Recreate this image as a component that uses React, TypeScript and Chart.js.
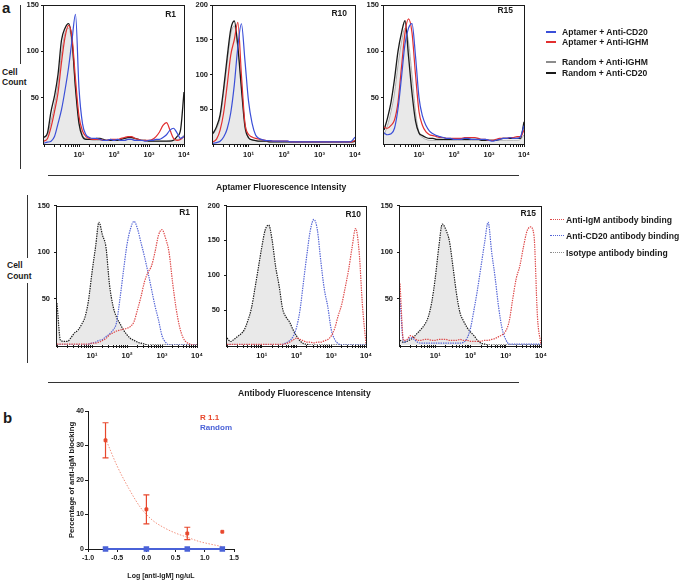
import React, { useEffect, useRef } from "react";
import { Chart, registerables } from "chart.js";

Chart.register(...registerables);

// ---------------- data ----------------
// histogram bins, in log10 units of fluorescence intensity (10^0 .. 10^4)
const LOG_BINS = [
  0.0, 0.1, 0.2, 0.3, 0.4, 0.5, 0.6, 0.7, 0.8, 0.9, 1.0, 1.1, 1.2, 1.3, 1.4, 1.5, 1.6, 1.7, 1.8, 1.9, 2.0,
  2.1, 2.2, 2.3, 2.4, 2.5, 2.6, 2.7, 2.8, 2.9, 3.0, 3.1, 3.2, 3.3, 3.4, 3.5, 3.6, 3.7, 3.8, 3.9, 4.0,
];
const DECADE_LABELS = ["", "10¹", "10²", "10³", "10⁴"];
const COUNT_TICKS = [50, 100, 150, 200];

// --- panel a, top row: aptamer fluorescence ---
const R1_APT_CD20 = [1, 2, 3, 8, 22, 37, 58, 82, 112, 140, 60, 22, 10, 7, 6, 6, 5, 4, 4, 5, 4, 5, 4, 4, 5, 5, 4, 4, 4, 3, 4, 4, 5, 5, 7, 10, 15, 17, 12, 6, 8];
const R1_APT_IGHM = [3, 6, 18, 35, 55, 88, 115, 128, 115, 70, 30, 14, 8, 6, 5, 5, 5, 4, 4, 5, 5, 5, 6, 7, 8, 8, 6, 5, 4, 4, 4, 5, 8, 13, 20, 23, 15, 6, 4, 5, 8];
const R1_RND_IGHM = [8, 10, 25, 42, 65, 98, 120, 125, 108, 60, 25, 10, 6, 5, 4, 4, 4, 4, 4, 4, 4, 4, 4, 4, 5, 5, 4, 4, 4, 3, 3, 3, 3, 3, 3, 3, 4, 4, 5, 6, 10];
const R1_RND_CD20 = [7, 12, 35, 52, 75, 112, 125, 130, 112, 60, 22, 8, 5, 5, 5, 6, 6, 5, 4, 4, 4, 4, 5, 6, 7, 7, 6, 5, 4, 4, 3, 3, 3, 3, 3, 3, 3, 4, 8, 15, 56];

const R10_APT_CD20 = [1, 2, 4, 10, 22, 45, 85, 140, 173, 120, 62, 30, 13, 8, 6, 5, 5, 4, 4, 4, 4, 4, 3, 3, 3, 3, 3, 3, 3, 3, 3, 3, 3, 3, 3, 3, 3, 3, 3, 4, 10];
const R10_APT_IGHM = [3, 7, 20, 45, 85, 128, 150, 175, 100, 30, 14, 10, 8, 7, 6, 5, 5, 4, 4, 4, 4, 4, 3, 3, 3, 3, 3, 3, 3, 3, 3, 3, 3, 3, 3, 3, 3, 3, 3, 3, 5];
const R10_RND_IGHM = [14, 22, 38, 75, 118, 158, 170, 140, 85, 30, 10, 6, 5, 4, 4, 4, 3, 3, 3, 3, 3, 3, 3, 3, 3, 3, 3, 3, 3, 3, 3, 3, 3, 3, 3, 3, 3, 3, 3, 3, 4];
const R10_RND_CD20 = [15, 25, 42, 80, 125, 165, 177, 140, 80, 25, 9, 6, 5, 4, 4, 4, 3, 3, 3, 3, 3, 3, 3, 3, 3, 3, 3, 3, 3, 3, 3, 3, 3, 3, 3, 3, 3, 3, 3, 3, 4];

const R15_APT_CD20 = [12, 10, 11, 17, 38, 72, 108, 125, 130, 95, 50, 30, 20, 14, 11, 9, 8, 7, 6, 6, 5, 5, 5, 6, 6, 5, 5, 5, 5, 5, 4, 3, 4, 5, 6, 6, 7, 6, 6, 8, 20];
const R15_APT_IGHM = [18, 17, 20, 26, 45, 83, 120, 135, 120, 75, 35, 20, 13, 10, 9, 8, 7, 7, 6, 6, 6, 6, 6, 7, 7, 7, 7, 6, 5, 5, 4, 4, 5, 6, 6, 6, 7, 7, 8, 8, 15];
const R15_RND_IGHM = [10, 20, 35, 55, 85, 110, 125, 110, 75, 35, 12, 7, 5, 4, 4, 4, 4, 4, 4, 4, 4, 4, 4, 4, 4, 4, 4, 4, 4, 4, 4, 4, 4, 4, 4, 4, 4, 4, 4, 5, 10];
const R15_RND_CD20 = [15, 28, 45, 70, 100, 120, 133, 95, 55, 25, 12, 9, 7, 6, 6, 5, 5, 5, 5, 5, 5, 5, 5, 5, 5, 5, 5, 5, 4, 4, 4, 4, 4, 5, 6, 6, 6, 6, 6, 6, 24];

// --- panel a, bottom row: antibody fluorescence ---
const AB_R1_IGM = [1, 1, 1, 1, 1, 1, 1, 1, 1, 1, 2, 2, 3, 5, 7, 11, 13, 15, 16, 17, 18, 20, 25, 38, 52, 68, 78, 85, 100, 118, 124, 115, 100, 68, 40, 20, 8, 3, 1, 0, 0];
const AB_R1_CD20 = [0, 0, 0, 0, 0, 0, 0, 0, 0, 1, 2, 3, 5, 6, 9, 12, 16, 24, 50, 80, 108, 125, 133, 125, 110, 95, 78, 60, 42, 27, 10, 3, 0, 0, 0, 0, 0, 0, 0, 0, 0];
const AB_R1_ISO = [45, 5, 4, 4, 8, 13, 16, 22, 30, 48, 78, 105, 132, 118, 105, 65, 42, 30, 23, 16, 11, 7, 5, 3, 2, 1, 0, 0, 0, 0, 0, 0, 0, 0, 0, 0, 0, 0, 0, 0, 0];

const AB_R10_IGM = [1, 1, 1, 1, 1, 1, 1, 1, 1, 1, 1, 1, 1, 1, 1, 1, 1, 2, 4, 7, 10, 8, 6, 4, 4, 3, 4, 4, 6, 8, 13, 24, 42, 58, 82, 108, 140, 167, 135, 55, 2];
const AB_R10_CD20 = [0, 0, 0, 0, 0, 0, 0, 0, 0, 0, 0, 0, 0, 0, 0, 0, 1, 3, 6, 12, 25, 50, 90, 130, 165, 180, 165, 120, 80, 55, 22, 8, 2, 0, 0, 0, 0, 0, 0, 0, 0];
const AB_R10_ISO = [10, 5, 8, 12, 16, 22, 35, 52, 80, 110, 140, 165, 172, 150, 112, 85, 52, 40, 33, 22, 13, 6, 2, 1, 0, 0, 0, 0, 0, 0, 0, 0, 0, 0, 0, 0, 0, 0, 0, 0, 0];

const AB_R15_IGM = [66, 5, 6, 10, 8, 5, 5, 6, 6, 5, 5, 6, 6, 6, 5, 5, 5, 6, 5, 5, 4, 4, 4, 4, 5, 5, 6, 7, 9, 11, 15, 26, 50, 72, 85, 105, 122, 127, 118, 30, 0];
const AB_R15_CD20 = [50, 3, 5, 8, 6, 3, 2, 2, 2, 2, 2, 2, 2, 2, 2, 2, 2, 2, 3, 7, 18, 38, 60, 85, 110, 132, 100, 72, 40, 17, 6, 1, 1, 1, 1, 1, 1, 1, 1, 1, 1];
const AB_R15_ISO = [5, 3, 4, 6, 9, 13, 17, 22, 30, 46, 72, 105, 130, 124, 112, 85, 56, 35, 26, 19, 14, 10, 5, 2, 1, 0, 0, 0, 0, 0, 0, 0, 0, 0, 0, 0, 0, 0, 0, 0, 0];

// --- panel b: blocking ---
const DOSE_LOG = [-0.7, 0.0, 0.7, 1.3];
const R11_BLOCKING = [31.5, 11.5, 4.5, 5.0];
const R11_ERROR = [5.1, 4.2, 1.8, 0];
const RANDOM_BLOCKING = [0, 0, 0, 0];
const FIT_LOG = [-0.7, -0.5, -0.3, -0.1, 0.1, 0.3, 0.5, 0.7, 0.9, 1.1, 1.3];
const FIT_BLOCKING = [32, 24, 17.5, 12, 8.4, 6.2, 4.6, 3.4, 2.2, 1.4, 0.7];
const DOSE_TICKS = [-1.0, -0.5, 0.0, 0.5, 1.0, 1.5];
const BLOCK_TICKS = [0, 10, 20, 30, 40];

// ---------------- styles ----------------
const FONT = '"Liberation Sans", Arial, Helvetica, sans-serif';
const INK = "#1a1a1a";
const BLUE = "#3b4fd8";
const RED = "#e22f2f";
const GREY = "#8c8c8c";
const FILL = "#e9e9e9";
const DOT_RED = "#de4848";
const DOT_BLUE = "#5263d6";
const B_RED = "#e8472c";
const B_FIT = "#f2917e";
const B_BLUE = "#4a62d8";

const LOG_TICK_POS: number[] = (() => {
  const out: number[] = [];
  for (let d = 0; d < 4; d++) for (let k = 1; k <= 9; k++) out.push(d + Math.log10(k));
  out.push(4);
  return out;
})();

const decadeLabel = (v: number) => {
  const r = Math.round(v);
  return Math.abs(v - r) < 1e-6 ? DECADE_LABELS[r] : "";
};

const framePlugin = {
  id: "frame",
  afterDatasetsDraw(chart: any) {
    const { ctx, chartArea: a } = chart;
    ctx.save();
    ctx.strokeStyle = INK;
    ctx.lineWidth = 1;
    ctx.strokeRect(Math.round(a.left) - 0.5, Math.round(a.top) + 0.5, Math.round(a.right - a.left) + 1, Math.round(a.bottom - a.top));
    ctx.restore();
  },
};

const panelNamePlugin = {
  id: "panelName",
  afterDatasetsDraw(chart: any, _args: any, opts: any) {
    if (!opts || !opts.text) return;
    const { ctx, chartArea: a } = chart;
    ctx.save();
    ctx.font = `bold 8.5px ${FONT}`;
    ctx.fillStyle = INK;
    ctx.textAlign = "right";
    ctx.textBaseline = "middle";
    ctx.fillText(opts.text, a.right - opts.dx, a.top + opts.dy);
    ctx.restore();
  },
};

const errorBarPlugin = {
  id: "errorBars",
  afterDatasetsDraw(chart: any, _args: any, opts: any) {
    if (!opts || !opts.x) return;
    const { ctx } = chart;
    const xs = chart.scales.x;
    const ys = chart.scales.y;
    ctx.save();
    ctx.strokeStyle = opts.color;
    ctx.lineWidth = 1.2;
    opts.x.forEach((xv: number, i: number) => {
      const e = opts.err[i];
      if (!e) return;
      const px = xs.getPixelForValue(xv);
      const hi = ys.getPixelForValue(opts.y[i] + e);
      const lo = ys.getPixelForValue(opts.y[i] - e);
      ctx.beginPath();
      ctx.moveTo(px, hi);
      ctx.lineTo(px, lo);
      ctx.moveTo(px - 3, hi);
      ctx.lineTo(px + 3, hi);
      ctx.moveTo(px - 3, lo);
      ctx.lineTo(px + 3, lo);
      ctx.stroke();
    });
    ctx.restore();
  },
};

type Series = { values: number[]; color: string; width: number; dash?: number[]; fill?: string };
type HistProps = {
  left: number;
  top: number;
  width: number;
  height: number;
  yMax: number;
  name: string;
  nameDx: number;
  nameDy: number;
  yPad: number;
  series: Series[];
};

const tickFont = { family: FONT, size: 7.5, weight: "bold" as const };

function Histogram(p: HistProps) {
  const ref = useRef<HTMLCanvasElement | null>(null);
  const YW = 40, XH = 20, PT = 8, PR = 12;
  const cw = YW + p.width + PR;
  const ch = PT + p.height + XH;
  useEffect(() => {
    const chart = new Chart(ref.current as HTMLCanvasElement, {
      type: "line",
      data: {
        datasets: p.series.map((s) => ({
          data: LOG_BINS.map((x, i) => ({ x, y: s.values[i] })),
          borderColor: s.color,
          borderWidth: s.width,
          borderDash: s.dash ?? [],
          pointRadius: 0,
          fill: s.fill ? "origin" : false,
          backgroundColor: s.fill ?? "transparent",
          cubicInterpolationMode: "monotone",
        })),
      },
      options: {
        animation: false,
        responsive: false,
        devicePixelRatio: 1,
        layout: { padding: { top: PT, right: PR, left: 0, bottom: 0 } },
        plugins: {
          legend: { display: false },
          tooltip: { enabled: false },
          panelName: { text: p.name, dx: p.nameDx, dy: p.nameDy },
        } as any,
        scales: {
          x: {
            type: "linear",
            min: 0,
            max: 4,
            afterBuildTicks: (s: any) => {
              s.ticks = LOG_TICK_POS.map((v) => ({ value: v }));
            },
            afterFit: (s: any) => {
              s.height = XH;
            },
            ticks: {
              autoSkip: false,
              maxRotation: 0,
              minRotation: 0,
              padding: 3,
              color: INK,
              font: tickFont,
              callback: (v: any) => decadeLabel(Number(v)),
            },
            grid: { drawOnChartArea: false, drawTicks: true, tickLength: 3, color: INK, lineWidth: 1 },
            border: { display: false },
          },
          y: {
            type: "linear",
            min: 0,
            max: p.yMax,
            afterBuildTicks: (s: any) => {
              s.ticks = COUNT_TICKS.filter((v) => v <= p.yMax).map((v) => ({ value: v }));
            },
            afterFit: (s: any) => {
              s.width = YW;
            },
            ticks: { padding: p.yPad, color: INK, font: tickFont, callback: (v: any) => String(v) },
            grid: { drawOnChartArea: false, drawTicks: true, tickLength: 3, color: INK, lineWidth: 1 },
            border: { display: false },
          },
        },
      } as any,
      plugins: [framePlugin, panelNamePlugin],
    });
    return () => chart.destroy();
  }, []);
  return (
    <canvas
      ref={ref}
      width={cw}
      height={ch}
      style={{ position: "absolute", left: p.left - YW, top: p.top - PT, width: cw, height: ch }}
    />
  );
}

function DoseResponse() {
  const ref = useRef<HTMLCanvasElement | null>(null);
  const L = 88, T = 411, W = 146, H = 138;
  const YW = 21, XH = 31, PT = 8, PR = 12;
  const cw = YW + W + PR;
  const ch = PT + H + XH;
  useEffect(() => {
    const axisTitleFont = (size: number) => ({ family: FONT, size, weight: "bold" as const });
    const chart = new Chart(ref.current as HTMLCanvasElement, {
      type: "line",
      data: {
        datasets: [
          {
            label: "Random",
            data: DOSE_LOG.map((x, i) => ({ x, y: RANDOM_BLOCKING[i] })),
            borderColor: B_BLUE,
            backgroundColor: B_BLUE,
            borderWidth: 2,
            pointStyle: "rect",
            pointRadius: 2.5,
            clip: false,
          },
          {
            label: "R 1.1",
            data: DOSE_LOG.map((x, i) => ({ x, y: R11_BLOCKING[i] })),
            showLine: false,
            borderColor: B_RED,
            backgroundColor: B_RED,
            pointStyle: "rect",
            pointRadius: 2,
            clip: false,
          },
          {
            label: "fit",
            data: FIT_LOG.map((x, i) => ({ x, y: FIT_BLOCKING[i] })),
            borderColor: B_FIT,
            borderWidth: 1,
            borderDash: [1.5, 1.5],
            pointRadius: 0,
            cubicInterpolationMode: "monotone",
          },
        ],
      },
      options: {
        animation: false,
        responsive: false,
        devicePixelRatio: 1,
        layout: { padding: { top: PT, right: PR, left: 0, bottom: 0 } },
        plugins: {
          legend: { display: false },
          tooltip: { enabled: false },
          errorBars: { x: DOSE_LOG, y: R11_BLOCKING, err: R11_ERROR, color: B_RED },
        } as any,
        scales: {
          x: {
            type: "linear",
            min: -1,
            max: 1.5,
            afterBuildTicks: (s: any) => {
              s.ticks = DOSE_TICKS.map((v) => ({ value: v }));
            },
            afterFit: (s: any) => {
              s.height = XH;
            },
            ticks: {
              autoSkip: false,
              maxRotation: 0,
              padding: 2,
              color: INK,
              font: { family: FONT, size: 7, weight: "bold" },
              callback: (v: any) => Number(v).toFixed(1),
            },
            grid: { drawOnChartArea: false, tickLength: 3, color: INK },
            border: { display: true, color: INK, width: 1 },
            title: { display: true, text: "Log [anti-IgM] ng/uL", color: INK, font: axisTitleFont(7), padding: 0 },
          },
          y: {
            type: "linear",
            min: 0,
            max: 40,
            afterBuildTicks: (s: any) => {
              s.ticks = BLOCK_TICKS.map((v) => ({ value: v }));
            },
            afterFit: (s: any) => {
              s.width = YW;
            },
            ticks: { padding: 1, color: INK, font: { family: FONT, size: 7, weight: "bold" } },
            grid: { drawOnChartArea: false, tickLength: 3, color: INK },
            border: { display: true, color: INK, width: 1 },
            title: {
              display: true,
              text: "Percentage of anti-IgM blocking",
              color: INK,
              font: axisTitleFont(7.7),
              padding: 0,
            },
          },
        },
      } as any,
      plugins: [errorBarPlugin],
    });
    return () => chart.destroy();
  }, []);
  return (
    <canvas
      ref={ref}
      width={cw}
      height={ch}
      style={{ position: "absolute", left: L - YW, top: T - PT, width: cw, height: ch }}
    />
  );
}

function Txt(props: { text: string; left: number; cy: number; size: number; color?: string; bg?: boolean }) {
  const lh = Math.round(props.size * 1.2);
  return (
    <div
      style={{
        position: "absolute",
        left: props.left,
        top: props.cy - lh / 2,
        fontFamily: FONT,
        fontWeight: "bold",
        fontSize: props.size,
        lineHeight: `${lh}px`,
        color: props.color ?? INK,
        whiteSpace: "nowrap",
      }}
    >
      {props.text}
    </div>
  );
}

function Rule(props: { left: number; top: number; width: number; height: number; color?: string }) {
  return (
    <div
      style={{
        position: "absolute",
        left: props.left,
        top: props.top,
        width: props.width,
        height: props.height,
        background: props.color ?? "#333",
      }}
    />
  );
}

function Mark(props: { left: number; cy: number; color: string; dotted?: boolean; width?: number }) {
  const w = props.width ?? 10;
  return props.dotted ? (
    <div
      style={{
        position: "absolute",
        left: props.left,
        top: props.cy - 1,
        width: w,
        height: 0,
        borderTop: `1.5px dotted ${props.color}`,
      }}
    />
  ) : (
    <div style={{ position: "absolute", left: props.left, top: props.cy - 1, width: w, height: 2, background: props.color }} />
  );
}

export default function App() {
  const topSeries = (cd20: number[], ighm: number[], rIghm: number[], rCd20: number[]): Series[] => [
    { values: cd20, color: BLUE, width: 1.2 },
    { values: ighm, color: RED, width: 1.2 },
    { values: rCd20, color: INK, width: 1.3 },
    { values: rIghm, color: "#a0a0a0", width: 0.8, fill: FILL },
  ];
  const dotted = [1.4, 1.0];
  const bottomSeries = (igm: number[], cd20: number[], iso: number[]): Series[] => [
    { values: igm, color: DOT_RED, width: 1.2, dash: dotted },
    { values: cd20, color: DOT_BLUE, width: 1.2, dash: dotted },
    { values: iso, color: INK, width: 1.2, dash: dotted, fill: FILL },
  ];

  return (
    <div style={{ position: "absolute", left: 0, top: 0, width: 680, height: 581, background: "#fff", overflow: "hidden" }}>
      <Txt text="a" left={2} cy={8} size={15} />
      <Txt text="b" left={3} cy={418} size={15} />

      {/* top row */}
      <Rule left={20} top={5} width={1} height={59} />
      <Rule left={20} top={90} width={1} height={79} />
      <Txt text="Cell" left={2} cy={72} size={8.5} />
      <Txt text="Count" left={2} cy={82} size={8.5} />
      <Histogram left={44} top={5} width={140} height={139} yMax={150} name="R1" nameDx={8} nameDy={10} yPad={2}
        series={topSeries(R1_APT_CD20, R1_APT_IGHM, R1_RND_IGHM, R1_RND_CD20)} />
      <Histogram left={213} top={5} width={142} height={139} yMax={200} name="R10" nameDx={8} nameDy={9} yPad={2}
        series={topSeries(R10_APT_CD20, R10_APT_IGHM, R10_RND_IGHM, R10_RND_CD20)} />
      <Histogram left={384} top={5} width={140} height={139} yMax={150} name="R15" nameDx={11} nameDy={6} yPad={2}
        series={topSeries(R15_APT_CD20, R15_APT_IGHM, R15_RND_IGHM, R15_RND_CD20)} />
      <Rule left={48} top={175} width={471} height={1} />
      <Txt text="Aptamer Fluorescence Intensity" left={216} cy={187} size={8.6} />

      <Mark left={546} cy={32} color={BLUE} />
      <Txt text="Aptamer + Anti-CD20" left={562} cy={32} size={8.6} />
      <Mark left={546} cy={42} color={RED} />
      <Txt text="Aptamer + Anti-IGHM" left={562} cy={42} size={8.6} />
      <Mark left={546} cy={62} color={GREY} />
      <Txt text="Random + Anti-IGHM" left={562} cy={62} size={8.6} />
      <Mark left={546} cy={73} color={INK} />
      <Txt text="Random + Anti-CD20" left={562} cy={73} size={8.6} />

      {/* bottom row */}
      <Rule left={27} top={195} width={1} height={63} />
      <Rule left={27} top={283} width={1} height={80} />
      <Txt text="Cell" left={7} cy={265} size={8.5} />
      <Txt text="Count" left={7} cy={276} size={8.5} />
      <Histogram left={57} top={205} width={140} height={140} yMax={150} name="R1" nameDx={7} nameDy={7} yPad={4}
        series={bottomSeries(AB_R1_IGM, AB_R1_CD20, AB_R1_ISO)} />
      <Histogram left={227} top={205} width={139} height={140} yMax={200} name="R10" nameDx={5} nameDy={9} yPad={4}
        series={bottomSeries(AB_R10_IGM, AB_R10_CD20, AB_R10_ISO)} />
      <Histogram left={400} top={205} width={141} height={140} yMax={150} name="R15" nameDx={5} nameDy={8} yPad={4}
        series={bottomSeries(AB_R15_IGM, AB_R15_CD20, AB_R15_ISO)} />
      <Rule left={48} top={382} width={471} height={1} />
      <Txt text="Antibody Fluorescence Intensity" left={238} cy={393} size={8.6} />

      <Mark left={550} cy={220} color={DOT_RED} dotted width={14} />
      <Txt text="Anti-IgM antibody binding" left={566} cy={220} size={8.6} />
      <Mark left={550} cy={236} color={DOT_BLUE} dotted width={14} />
      <Txt text="Anti-CD20 antibody binding" left={566} cy={236} size={8.6} />
      <Mark left={550} cy={253} color={GREY} dotted width={14} />
      <Txt text="Isotype antibody binding" left={566} cy={253} size={8.6} />

      {/* panel b */}
      <DoseResponse />
      <Txt text="R 1.1" left={200} cy={418} size={8} color={B_RED} />
      <Txt text="Random" left={200} cy={428} size={8} color={B_BLUE} />
    </div>
  );
}
